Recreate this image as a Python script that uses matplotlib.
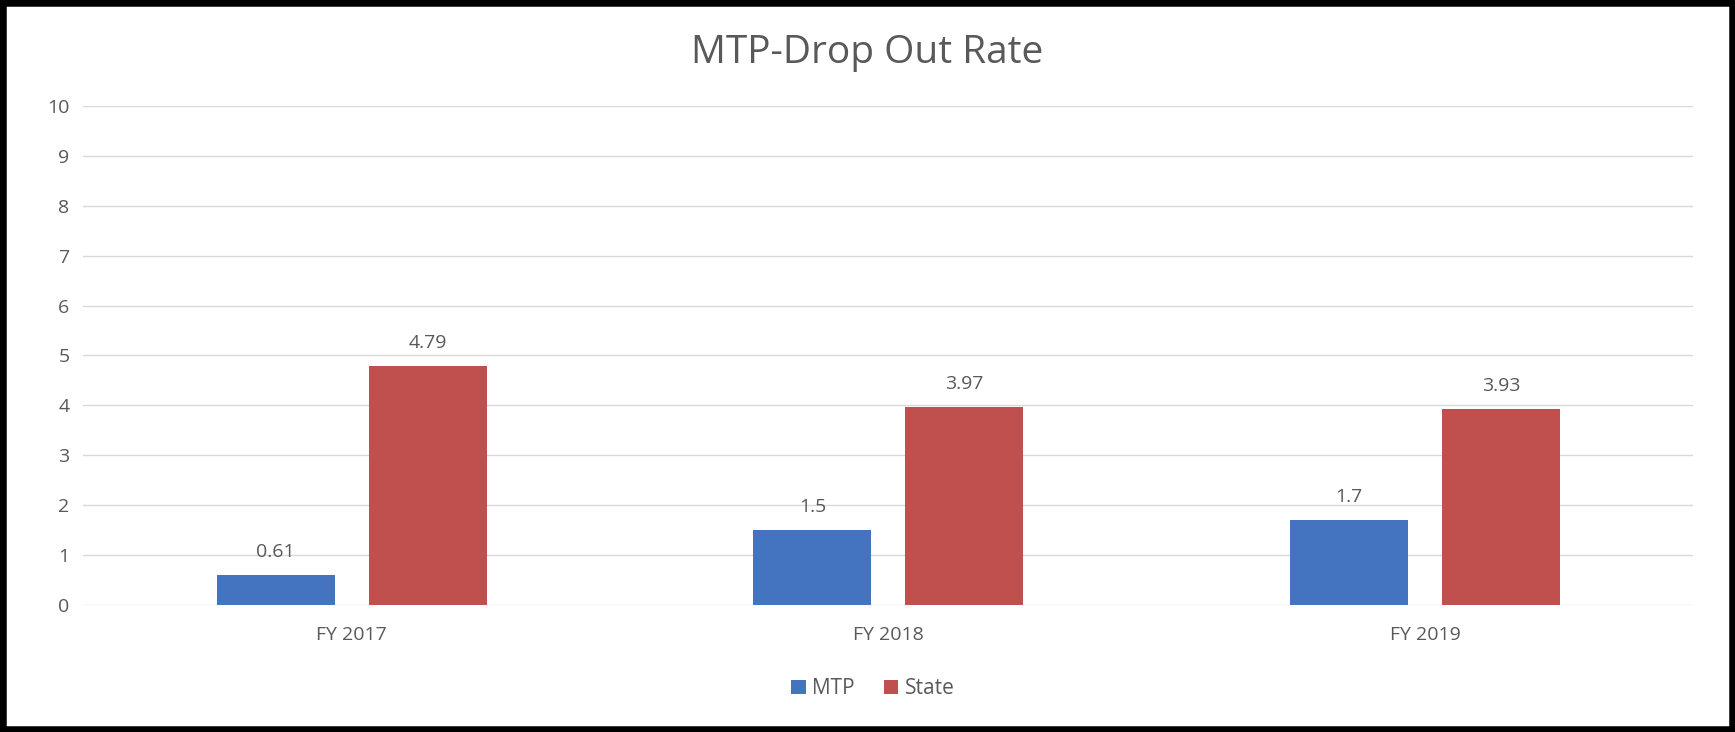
import matplotlib.pyplot as plt
import numpy as np
from matplotlib.patches import Rectangle

categories = ['FY 2017', 'FY 2018', 'FY 2019']
mtp = [0.61, 1.5, 1.7]
state = [4.79, 3.97, 3.93]
mtp_labels = ['0.61', '1.5', '1.7']
state_labels = ['4.79', '3.97', '3.93']

blue = '#4473C0'
red = '#C0504D'
grey = '#595959'

plt.rcParams['font.family'] = ['Open Sans', 'DejaVu Sans']

fig = plt.figure(figsize=(17.35, 7.32), dpi=100, facecolor='white')
ax = fig.add_axes([0.048, 0.1735, 0.928, 0.6817])

x = np.arange(len(categories))
w = 0.22
gap = 0.063
off = (w + gap) / 2

b1 = ax.bar(x - off, mtp, w, color=blue, label='MTP', zorder=3)
b2 = ax.bar(x + off, state, w, color=red, label='State', zorder=3)

for bars, labels in ((b1, mtp_labels), (b2, state_labels)):
    for rect, lab in zip(bars, labels):
        ax.annotate(lab, (rect.get_x() + rect.get_width() / 2, rect.get_height()),
                    xytext=(0, 10), textcoords='offset points',
                    ha='center', va='bottom', fontsize=14, color=grey)

ax.set_xlim(-0.5, 2.5)
ax.set_ylim(0, 10)
ax.set_yticks(range(0, 11))
ax.set_xticks(x)
ax.set_xticklabels(categories)
ax.tick_params(axis='x', length=0, pad=15, labelsize=14, labelcolor=grey)
ax.tick_params(axis='y', length=0, pad=10, labelsize=14, labelcolor=grey)

ax.grid(axis='y', color='#D9D9D9', linewidth=1, zorder=0)
for s in ax.spines.values():
    s.set_visible(False)

fig.text(0.5, 0.927, 'MTP-Drop Out Rate', ha='center', va='center',
         fontsize=28, color=grey)

fig.legend(handles=[b1, b2], loc='center', bbox_to_anchor=(0.503, 0.059),
           ncol=2, frameon=False, fontsize=15, handlelength=0.7,
           handleheight=0.7, handletextpad=0.3, columnspacing=1.4,
           labelcolor=grey)

# black frame round the picture
fig.patches.append(Rectangle((0, 0), 1, 1, transform=fig.transFigure,
                             fill=False, edgecolor='black', linewidth=9))

fig.savefig('out.png', dpi=100, facecolor='white')
